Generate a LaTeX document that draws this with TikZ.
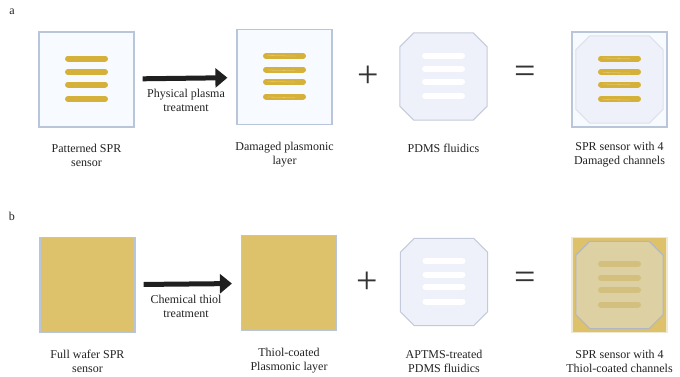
\documentclass[tikz,border=0pt]{standalone}
\usepackage{fontspec}
\setmainfont{Liberation Serif}
\usetikzlibrary{arrows.meta}

\definecolor{chipfill}{HTML}{F7FAFE}
\definecolor{chipdraw}{HTML}{B9C5D9}
\definecolor{gold}{HTML}{D6B13A}
\definecolor{pdmsfill}{HTML}{EEF1F9}
\definecolor{pdmsdraw}{HTML}{C3CADB}
\definecolor{wafer}{HTML}{DDC16B}
\definecolor{thiolfill}{HTML}{DDD0A2}
\definecolor{thiolline}{HTML}{D4C07E}
\definecolor{textgray}{HTML}{222222}

% four channel traces around a node centre
\newcommand{\traces}[2]{%
    \foreach \dy in {-21,-7.5,5,19.5}
        \draw[#2] ([shift={(-18.5,\dy)}]#1.center) -- ([shift={(18.5,\dy)}]#1.center);
}
% octagon outline of a pdms node
\newcommand{\octagon}[2]{%
    \draw[#2] ([shift={(14,0)}]#1.north west) -- ([shift={(-14,0)}]#1.north east)
        -- ([shift={(0,14)}]#1.north east) -- ([shift={(0,-14)}]#1.south east)
        -- ([shift={(-14,0)}]#1.south east) -- ([shift={(14,0)}]#1.south west)
        -- ([shift={(0,-14)}]#1.south west) -- ([shift={(0,14)}]#1.north west) -- cycle;
}

\begin{document}
\begin{tikzpicture}[x=1pt, y=-1pt, text=textgray, align=center]
    \tikzstyle{chip}=[draw=chipdraw, fill=chipfill, line width=1.2pt, minimum size=95pt, inner sep=0pt];
    \tikzstyle{wafer chip}=[chip, fill=wafer];
    \tikzstyle{pdms}=[minimum width=87pt, minimum height=87pt, inner sep=0pt];
    \tikzstyle{pdms line}=[draw=pdmsdraw, fill=pdmsfill, line width=1pt, line join=round];
    \tikzstyle{trace}=[gold, line width=6pt, line cap=round];
    \tikzstyle{channel}=[white, line width=6pt, line cap=round];
    \tikzstyle{treat}=[line width=5pt, -{Triangle[length=12pt, width=19pt]}, shorten <=8pt, shorten >=9pt, black!88];
    \tikzstyle{caption}=[font=\fontsize{12}{14}\selectfont];
    \tikzstyle{sign}=[font=\fontsize{38}{38}\selectfont, text=black!80];

    \useasboundingbox (0,0) rectangle (680,376);

    % row a
    \node at (12, 12) (a) [font=\fontsize{12}{12}\selectfont] {a};
    \node at ( 86.5, 79.5) (pattern) [chip] {};
    \node at (284.5, 77.0) (damaged) [chip] {};
    \node at (368.0, 77.0) (plusa)   [sign] {+};
    \node at (443.5, 76.5) (pdmsa)   [pdms] {};
    \node at (525.0, 75.0) (eqa)     [sign] {=};
    \node at (619.5, 79.5) (sensora) [chip] {};
    \node at (619.5, 79.5) (topa)    [pdms] {};

    \octagon{pdmsa}{pdms line}
    \octagon{topa}{pdms line, draw=pdmsdraw!50!chipfill}
    \traces{pattern}{trace}
    \traces{damaged}{trace}
    \traces{pdmsa}{channel}
    \traces{topa}{trace}
    \foreach \n in {damaged, topa}
        \foreach \dy in {-21.5,-7,4.5,20}
            \draw[white, line width=0.3pt, opacity=0.45]
                ([shift={(-17,\dy)}]\n.center) -- ([shift={(10,\dy+0.6)}]\n.center);

    \draw[treat] (pattern) -- (damaged);
    \node at (186, 100) (plasma) [caption] {Physical plasma\\treatment};

    \node at ( 86.5, 155) [caption] {Patterned SPR\\sensor};
    \node at (284.5, 155) [caption] {Damaged plasmonic\\layer};
    \node at (443.5, 148) [caption] {PDMS fluidics};
    \node at (619.5, 155) [caption] {SPR sensor with 4\\Damaged channels};

    % row b
    \node at (12, 216) (b) [font=\fontsize{12}{12}\selectfont] {b};
    \node at ( 87.5, 285.0) (fullwafer) [wafer chip] {};
    \node at (289.0, 283.0) (thiol)     [wafer chip] {};
    \node at (367.0, 283.0) (plusb)     [sign] {+};
    \node at (444.0, 282.0) (pdmsb)     [pdms] {};
    \node at (525.0, 281.0) (eqb)       [sign] {=};
    \node at (619.5, 285.0) (sensorb)   [wafer chip, draw=chipfill!70!wafer] {};
    \node at (619.5, 285.0) (topb)      [pdms] {};

    \octagon{pdmsb}{pdms line}
    \octagon{topb}{pdms line, fill=thiolfill, draw=pdmsdraw!90!black}
    \traces{pdmsb}{channel}
    \traces{topb}{thiolline, line width=6pt, line cap=round}

    \draw[treat] (fullwafer) -- (thiol);
    \node at (186, 306) (chemical) [caption] {Chemical thiol\\treatment};

    \node at ( 87.5, 361) [caption] {Full wafer SPR\\sensor};
    \node at (289.0, 361) [caption] {Thiol-coated\\Plasmonic layer};
    \node at (444.0, 361) [caption] {APTMS-treated\\PDMS fluidics};
    \node at (619.5, 361) [caption] {SPR sensor with 4\\Thiol-coated channels};
\end{tikzpicture}
\end{document}
